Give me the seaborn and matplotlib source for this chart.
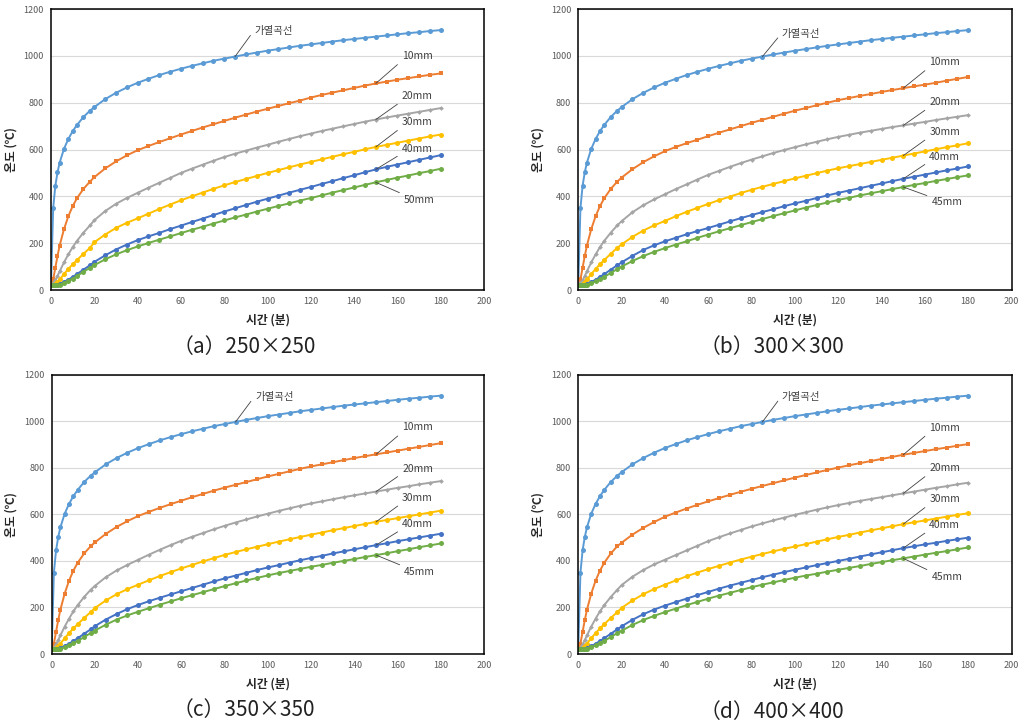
import pandas as pd
import matplotlib.pyplot as plt
import seaborn as sns

# time (min)
t_early = [0, 1, 2, 3, 4, 6, 8, 10, 12, 15, 18]
t_late = [20, 25, 30, 35, 40, 45, 50, 55, 60, 65, 70, 75, 80, 85, 90, 95, 100,
          105, 110, 115, 120, 125, 130, 135, 140, 145, 150, 155, 160, 165, 170, 175, 180]
time_min = t_early + t_late

# heating curve (same in all four panels)
fire = [20, 349, 445, 502, 544, 603, 645, 678, 705, 739, 766,
        781, 815, 842, 865, 885, 902, 918, 932, 945, 957, 968, 979, 988, 997, 1006, 1014,
        1022, 1029, 1036, 1043, 1049, 1055, 1061, 1067, 1072, 1077, 1082, 1087, 1092, 1097,
        1101, 1106, 1110]

# first minutes, nearly the same for all sections
early_10 = [20, 45, 95, 145, 190, 260, 315, 358, 392, 432, 463]
early_20 = [20, 28, 42, 60, 80, 118, 152, 183, 210, 245, 276]
early_30 = [20, 22, 27, 35, 45, 68, 90, 110, 128, 155, 180]
early_40 = [20, 20, 21, 23, 26, 34, 44, 56, 68, 87, 106]
early_45 = [20, 20, 20, 21, 23, 29, 37, 46, 56, 73, 90]
early_50 = [20, 20, 20, 21, 23, 30, 39, 49, 60, 78, 95]

# (a) 250x250
a_10 = [482, 519, 549, 575, 597, 615, 632, 648, 664, 679, 694, 708, 722, 736, 749, 762, 774,
        786, 798, 809, 822, 833, 843, 853, 863, 873, 882, 890, 898, 905, 912, 919, 925]
a_20 = [298, 337, 368, 393, 415, 437, 458, 479, 500, 518, 535, 552, 568, 582, 595, 608, 620,
        633, 645, 657, 668, 679, 689, 699, 709, 719, 728, 737, 745, 753, 761, 769, 777]
a_30 = [204, 237, 265, 287, 306, 326, 346, 365, 383, 400, 416, 432, 447, 461, 474, 487, 500,
        512, 524, 536, 547, 558, 569, 580, 590, 601, 611, 620, 629, 638, 647, 656, 664]
a_40 = [120, 148, 173, 194, 213, 229, 244, 260, 275, 290, 305, 320, 335, 349, 363, 377, 390,
        403, 416, 428, 440, 453, 465, 478, 490, 503, 515, 526, 536, 546, 556, 566, 576]
a_50 = [106, 131, 152, 170, 186, 201, 215, 229, 243, 257, 270, 284, 297, 310, 322, 335, 347,
        359, 370, 382, 393, 404, 416, 427, 438, 449, 460, 470, 480, 489, 499, 508, 518]

# (b) 300x300
b_10 = [480, 516, 546, 571, 593, 611, 627, 642, 657, 672, 686, 700, 714, 727, 740, 753, 766,
        777, 789, 800, 811, 820, 829, 837, 846, 854, 862, 870, 877, 885, 894, 902, 910]
b_20 = [294, 332, 362, 387, 409, 431, 451, 472, 492, 509, 526, 542, 557, 571, 585, 598, 610,
        622, 633, 644, 654, 663, 672, 680, 688, 696, 703, 711, 718, 726, 733, 740, 747]
b_30 = [195, 227, 254, 276, 295, 315, 334, 351, 368, 384, 399, 414, 428, 441, 453, 465, 477,
        488, 499, 510, 520, 529, 538, 547, 556, 565, 574, 583, 592, 601, 610, 618, 627]
b_40 = [118, 146, 171, 191, 208, 223, 238, 252, 265, 279, 293, 307, 320, 333, 345, 358, 370,
        381, 393, 404, 415, 425, 435, 445, 455, 465, 475, 484, 493, 502, 511, 519, 528]
b_45 = [100, 124, 145, 163, 179, 194, 208, 223, 237, 251, 264, 277, 290, 303, 316, 328, 340,
        352, 363, 374, 385, 394, 404, 413, 422, 431, 440, 449, 457, 466, 474, 482, 490]

# (c) 350x350
c_10 = [480, 516, 546, 571, 593, 611, 628, 644, 659, 674, 688, 702, 715, 727, 739, 751, 763,
        774, 785, 796, 806, 815, 824, 833, 842, 850, 858, 866, 874, 882, 890, 898, 906]
c_20 = [293, 330, 359, 383, 405, 427, 448, 468, 487, 504, 520, 536, 551, 565, 578, 591, 603,
        615, 626, 637, 647, 656, 665, 674, 682, 690, 698, 706, 714, 721, 729, 736, 743]
c_30 = [198, 230, 257, 279, 298, 317, 335, 352, 368, 383, 398, 412, 426, 438, 450, 461, 472,
        483, 493, 503, 513, 522, 532, 541, 550, 559, 568, 576, 584, 592, 600, 608, 616]
c_40 = [120, 148, 172, 193, 211, 227, 242, 256, 270, 284, 298, 312, 325, 337, 349, 361, 372,
        382, 393, 403, 413, 422, 432, 441, 450, 459, 468, 476, 485, 493, 501, 509, 517]
c_45 = [101, 126, 148, 166, 182, 197, 212, 226, 240, 253, 266, 279, 292, 304, 316, 327, 338,
        348, 357, 366, 375, 383, 392, 400, 408, 417, 425, 433, 442, 450, 459, 467, 475]

# (d) 400x400
d_10 = [478, 513, 542, 567, 590, 608, 625, 641, 656, 670, 684, 697, 710, 722, 734, 746, 758,
        769, 780, 791, 801, 811, 820, 829, 838, 847, 856, 864, 872, 880, 887, 895, 902]
d_20 = [296, 332, 361, 385, 405, 425, 445, 465, 485, 502, 518, 533, 548, 561, 574, 586, 598,
        609, 620, 630, 640, 649, 658, 666, 674, 682, 690, 698, 706, 714, 721, 729, 736]
d_30 = [198, 230, 257, 279, 298, 316, 334, 350, 365, 379, 393, 406, 418, 430, 441, 452, 462,
        472, 483, 493, 503, 512, 522, 531, 540, 549, 558, 566, 574, 582, 590, 598, 605]
d_40 = [119, 147, 171, 191, 208, 223, 238, 253, 267, 281, 294, 306, 318, 330, 341, 352, 362,
        372, 382, 391, 400, 409, 419, 428, 437, 446, 455, 463, 471, 478, 486, 493, 500]
d_45 = [100, 125, 146, 164, 180, 195, 210, 224, 238, 251, 263, 275, 287, 298, 308, 318, 328,
        337, 345, 354, 362, 370, 378, 387, 395, 403, 411, 419, 427, 435, 442, 450, 458]

captions = ["（a）250×250", "（b）300×300", "（c）350×350", "（d）400×400"]
labels = [["가열곡선", "10mm", "20mm", "30mm", "40mm", "50mm"],
          ["가열곡선", "10mm", "20mm", "30mm", "40mm", "45mm"],
          ["가열곡선", "10mm", "20mm", "30mm", "40mm", "45mm"],
          ["가열곡선", "10mm", "20mm", "30mm", "40mm", "45mm"]]
series = [
    [fire, early_10 + a_10, early_20 + a_20, early_30 + a_30, early_40 + a_40, early_50 + a_50],
    [fire, early_10 + b_10, early_20 + b_20, early_30 + b_30, early_40 + b_40, early_45 + b_45],
    [fire, early_10 + c_10, early_20 + c_20, early_30 + c_30, early_40 + c_40, early_45 + c_45],
    [fire, early_10 + d_10, early_20 + d_20, early_30 + d_30, early_40 + d_40, early_45 + d_45],
]
# label text heights (deg C) for each panel
label_y = [[1107, 1000, 828, 717, 604, 386],
           [1094, 973, 802, 675, 570, 375],
           [1105, 974, 797, 671, 558, 354],
           [1106, 973, 798, 665, 554, 332]]

colors = ["#5B9BD5", "#ED7D31", "#A5A5A5", "#FFC000", "#4472C4", "#70AD47"]
markers = ["o", "s", "D", "o", "o", "o"]
msizes = [3.6, 3.4, 2.4, 3.6, 3.6, 3.6]

sns.set_style("white")
plt.rcParams["font.family"] = ["Noto Sans CJK KR", "DejaVu Sans"]

fig = plt.figure(figsize=(10.24, 7.28), dpi=100)
positions = [(0.0498, 0.6016, 0.4229, 0.386), (0.5647, 0.6016, 0.4232, 0.386),
             (0.0505, 0.1016, 0.4224, 0.3837), (0.5647, 0.1016, 0.4232, 0.3837)]
cap_pos = [(0.238, 0.523), (0.754, 0.523), (0.238, 0.025), (0.754, 0.022)]

for p in range(4):
    ax = fig.add_axes(positions[p])
    rows = []
    for name, vals in zip(labels[p], series[p]):
        for t, v in zip(time_min, vals):
            rows.append({"time": t, "temp": v, "series": name})
    df = pd.DataFrame(rows)
    for i, name in enumerate(labels[p]):
        sub = df[df["series"] == name]
        sns.lineplot(data=sub, x="time", y="temp", ax=ax, color=colors[i],
                     marker=markers[i], markersize=msizes[i], markeredgewidth=0,
                     linewidth=1.4, legend=False)

    ax.set_xlim(0, 200)
    ax.set_ylim(0, 1200)
    ax.set_xticks(range(0, 201, 20))
    ax.set_yticks(range(0, 1201, 200))
    ax.yaxis.grid(True, color="#d9d9d9", linewidth=0.8)
    ax.xaxis.grid(False)
    ax.set_axisbelow(True)
    ax.tick_params(length=0, labelsize=6.5, labelcolor="#595959", pad=5)
    for s in ax.spines.values():
        s.set_color("black")
        s.set_linewidth(1.1)
    ax.set_xlabel("시간 (분)", fontsize=8.5, fontweight="bold", color="#262626")
    ax.set_ylabel("온도 (℃)", fontsize=8.5, fontweight="bold", color="#262626")
    ax.xaxis.set_label_coords(0.5, -0.085)
    ax.yaxis.set_label_coords(-0.078, 0.5)

    # leader labels
    i85 = time_min.index(85)
    i150 = time_min.index(150)
    ax.annotate(labels[p][0], xy=(85, series[p][0][i85]), xytext=(94, label_y[p][0]),
                fontsize=7.5, color="#404040", ha="left", va="center",
                arrowprops=dict(arrowstyle="-", color="#404040", lw=0.6,
                                shrinkA=1, shrinkB=0, relpos=(0, 0.6)))
    for k in range(1, 6):
        below = k == 5
        ax.annotate(labels[p][k], xy=(150, series[p][k][i150]),
                    xytext=(163 if below else 162, label_y[p][k]),
                    fontsize=7.5, color="#404040", ha="left", va="center",
                    arrowprops=dict(arrowstyle="-", color="#404040", lw=0.6,
                                    shrinkA=1, shrinkB=0,
                                    relpos=(0, 1) if below else (0, 0)))

    fig.text(cap_pos[p][0], cap_pos[p][1], captions[p], ha="center", va="center",
             fontsize=15, color="#222222")

fig.savefig("out.png", dpi=100)
